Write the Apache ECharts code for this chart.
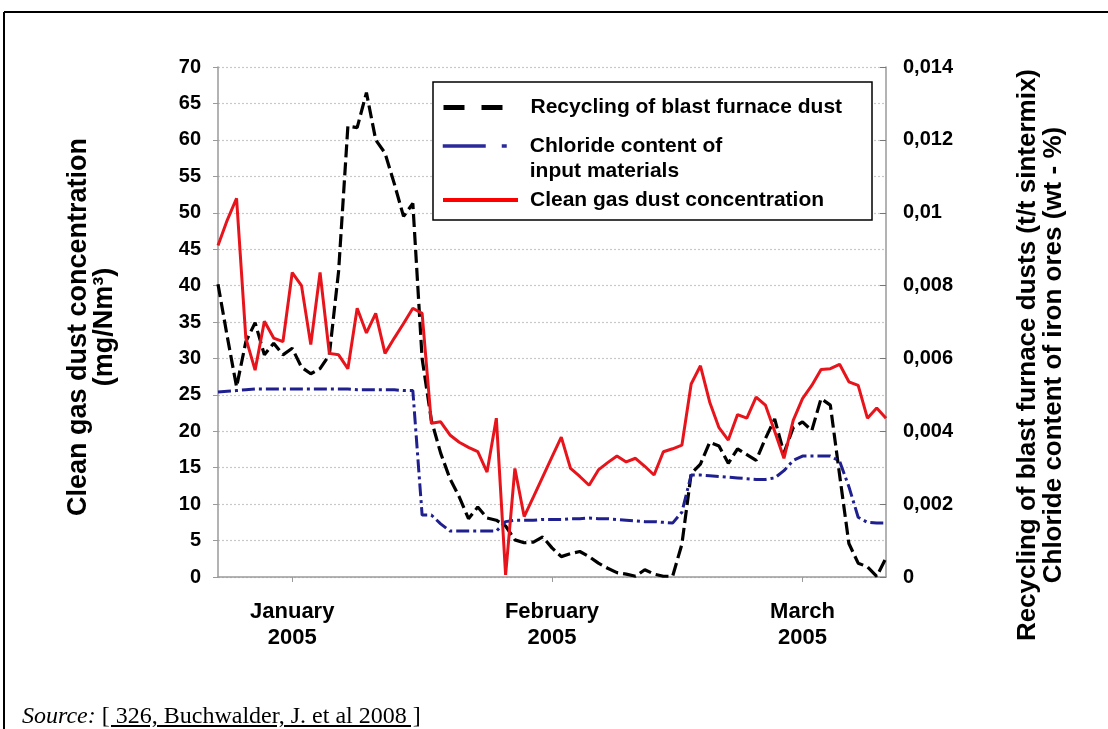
<!DOCTYPE html>
<html>
<head>
<meta charset="utf-8">
<script src="https://cdn.jsdelivr.net/npm/echarts@6/dist/echarts.min.js"></script>
<style>
html,body{margin:0;padding:0;background:#fff;}
#wrap{position:relative;width:1108px;height:729px;overflow:hidden;}
#chart{position:absolute;left:0;top:0;width:1108px;height:729px;}
#src{position:absolute;left:22px;top:701px;font-family:"Liberation Serif","Times New Roman",serif;font-size:24px;line-height:28px;color:#000;white-space:nowrap;}
#src u{text-decoration:underline;text-underline-offset:2px;}
</style>
</head>
<body>
<div id="wrap">
<div id="chart"></div>
<div id="src"><i>Source:</i> <u>[ 326, Buchwalder, J. et al 2008 ]</u></div>
</div>
<script>
// ---- data ----
const seriesNames = [
  'Recycling of blast furnace dust',
  'Chloride content of\ninput materials',
  'Clean gas dust concentration'
];
// Clean gas dust concentration (mg/Nm3), left axis
const cleanGasDust = [45.5,49,52,32.8,28.4,35.1,32.8,32.3,41.8,40,31.9,41.8,30.7,30.5,28.6,36.9,33.5,36.2,30.7,32.8,34.8,36.9,36.2,21.1,21.3,19.5,18.5,17.8,17.2,14.4,21.8,0.3,14.9,8.3,11,13.75,16.5,19.2,14.9,13.8,12.6,14.7,15.7,16.6,15.8,16.3,15.2,14.0,17.2,17.6,18.1,26.5,29.0,24,20.5,18.8,22.3,21.8,24.7,23.6,20,16.3,21.5,24.5,26.3,28.5,28.6,29.2,26.8,26.3,21.8,23.2,21.8];
// Recycling of blast furnace dust (t/t sintermix), right axis
const recyclingDust = [0.00804,0.0066,0.00522,0.00646,0.00698,0.0061,0.00642,0.0061,0.00628,0.00576,0.00558,0.00572,0.0061,0.0084,0.01238,0.01234,0.0133,0.012,0.01164,0.0108,0.0099,0.01026,0.006,0.0043,0.0034,0.0027,0.0022,0.0016,0.00192,0.00162,0.00156,0.0014,0.00102,0.00094,0.00096,0.0011,0.0008,0.00056,0.00064,0.0007,0.00056,0.00038,0.00024,0.00012,0.00008,0.00002,0.0002,0.00008,0.00002,0.00002,0.0009,0.00284,0.0031,0.0037,0.0036,0.00312,0.00352,0.00336,0.0032,0.0038,0.00434,0.0034,0.0041,0.00426,0.00402,0.0049,0.00472,0.0028,0.00092,0.00038,0.00028,0.00002,0.00052];
// Chloride content of input materials (wt-%), right axis
const chlorideContent = [0.00508,0.0051,0.00512,0.00514,0.00516,0.00516,0.00516,0.00516,0.00516,0.00516,0.00516,0.00516,0.00516,0.00516,0.00516,0.00514,0.00514,0.00514,0.00514,0.00514,0.00512,0.00512,
  0.0017,0.0017,0.00146,0.00126,0.00126,0.00126,0.00126,0.00126,0.00126,0.00152,0.00156,0.00156,0.00156,0.00158,0.00158,0.00158,0.0016,0.0016,0.00162,0.0016,0.0016,0.00158,0.00156,0.00154,0.00152,0.00152,0.0015,0.00148,0.00178,
  0.0028,0.0028,0.00278,0.00276,0.00274,0.00272,0.0027,0.00268,0.00268,0.00272,0.00292,0.0032,0.00332,0.00332,0.00332,0.00332,0.00318,0.00248,0.00164,0.0015,0.00148,0.00148];
// x-axis month labels and the sample index where each is centred
const monthLabels = ['January\n2005', 'February\n2005', 'March\n2005'];
const monthIndex = [8, 36, 63];
// axis ranges
const leftAxis = {min: 0, max: 70, interval: 5};
const rightAxis = {min: 0, max: 0.014, interval: 0.002};
const leftAxisName = 'Clean gas dust concentration\n(mg/Nm\u00b3)';
const rightAxisName = 'Recycling of blast furnace dusts (t/t sintermix)\nChloride content of iron ores (wt - %)';

// ---- chart ----
const categories = cleanGasDust.map((_, i) => String(i));
const FONT = '"Liberation Sans", Arial, sans-serif';
const AXIS_GREY = '#9a9a9a';
const chart = echarts.init(document.getElementById('chart'), null, {renderer: 'canvas'});
const legendText = {fontFamily: FONT, fontSize: 21, fontWeight: 'bold', color: '#000', lineHeight: 25, padding: [0, 0, 0, 7]};
const hiddenSymbol = {color: 'rgba(0,0,0,0)', borderWidth: 0, opacity: 0};

const option = {
  animation: false,
  backgroundColor: '#fff',
  textStyle: {fontFamily: FONT},
  grid: {left: 218, right: 222, top: 66, bottom: 152},
  xAxis: {
    type: 'category',
    data: categories,
    boundaryGap: false,
    axisLine: {lineStyle: {color: AXIS_GREY, width: 1.5}},
    axisTick: {show: true, interval: (i) => monthIndex.includes(i), length: 5, lineStyle: {color: AXIS_GREY}},
    axisLabel: {
      interval: 0,
      formatter: (v, i) => { const k = monthIndex.indexOf(i); return k >= 0 ? monthLabels[k] : ''; },
      margin: 22, fontSize: 22, fontWeight: 'bold', lineHeight: 26, color: '#000', fontFamily: FONT
    },
    splitLine: {show: false}
  },
  yAxis: [
    {
      type: 'value', position: 'left',
      min: leftAxis.min, max: leftAxis.max, interval: leftAxis.interval,
      name: leftAxisName, nameLocation: 'middle', nameRotate: 90, nameGap: 100,
      nameTextStyle: {fontFamily: FONT, fontSize: 27, fontWeight: 'bold', color: '#000', lineHeight: 26, padding: [0, 10, 0, 0]},
      axisLine: {show: true, lineStyle: {color: AXIS_GREY, width: 1.5}},
      axisTick: {show: true, length: 5, lineStyle: {color: AXIS_GREY}},
      axisLabel: {fontFamily: FONT, fontSize: 20, fontWeight: 'bold', color: '#000', margin: 17},
      splitLine: {show: true, lineStyle: {color: '#c8c8c8', type: [2, 2], width: 1.2}}
    },
    {
      type: 'value', position: 'right',
      min: rightAxis.min, max: rightAxis.max, interval: rightAxis.interval,
      name: rightAxisName, nameLocation: 'middle', nameRotate: 90, nameGap: 129,
      nameTextStyle: {fontFamily: FONT, fontSize: 26, fontWeight: 'bold', color: '#000', lineHeight: 26, padding: [0, 66, 0, 0]},
      axisLine: {show: true, lineStyle: {color: AXIS_GREY, width: 1.5}},
      axisTick: {show: true, inside: true, length: 6, lineStyle: {color: '#777'}},
      axisLabel: {
        fontFamily: FONT, fontSize: 20, fontWeight: 'bold', color: '#000', margin: 17,
        formatter: (v) => String(+v.toFixed(4)).replace('.', ',')
      },
      splitLine: {show: false}
    }
  ],
  legend: [
    {
      data: [{name: seriesNames[0], itemStyle: hiddenSymbol, lineStyle: {type: [21, 17, 21, 300], width: 5, color: '#000'}}],
      left: 441, top: 95, padding: 0, itemWidth: 75, itemHeight: 14, selectedMode: false,
      textStyle: legendText
    },
    {
      data: [{name: seriesNames[1], itemStyle: hiddenSymbol, lineStyle: {type: [43, 16, 5, 300], width: 3.5, color: '#2a2a9a'}}],
      formatter: '\n{name}',
      left: 441, top: 108.5, padding: 0, itemWidth: 75, itemHeight: 14, selectedMode: false,
      textStyle: legendText
    },
    {
      data: [{name: seriesNames[2], itemStyle: hiddenSymbol, lineStyle: {width: 4, color: '#ff0000'}}],
      left: 441, top: 187.5, padding: 0, itemWidth: 75, itemHeight: 14, selectedMode: false,
      textStyle: legendText
    }
  ],
  graphic: [
    {type: 'rect', z: 3, shape: {x: 433, y: 82, width: 439, height: 138}, style: {fill: '#fff', stroke: '#000', lineWidth: 1.5}},
    {type: 'line', z: 10, shape: {x1: 4, y1: 12, x2: 1108, y2: 12}, style: {stroke: '#000', lineWidth: 2}},
    {type: 'line', z: 10, shape: {x1: 4, y1: 12, x2: 4, y2: 729}, style: {stroke: '#000', lineWidth: 2}}
  ],
  series: [
    {
      name: seriesNames[0], type: 'line', yAxisIndex: 1, data: recyclingDust,
      symbol: 'none', z: 2,
      lineStyle: {color: '#000', width: 3.2, type: [13, 5]}, itemStyle: {color: '#000'}
    },
    {
      name: seriesNames[1], type: 'line', yAxisIndex: 1, data: chlorideContent,
      symbol: 'none', z: 2,
      lineStyle: {color: '#1f1f8f', width: 3, type: [13, 4, 3, 4]}, itemStyle: {color: '#1f1f8f'}
    },
    {
      name: seriesNames[2], type: 'line', yAxisIndex: 0, data: cleanGasDust,
      symbol: 'none', z: 2,
      lineStyle: {color: '#e8141b', width: 3}, itemStyle: {color: '#e8141b'}
    }
  ]
};
chart.setOption(option);
</script>
</body>
</html>
